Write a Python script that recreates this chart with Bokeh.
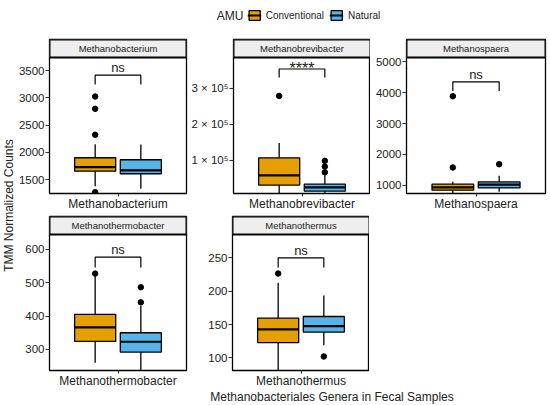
from bokeh.models import ColumnDataSource, Range1d, FixedTicker, Label, Legend, LegendItem
from bokeh.plotting import figure
from bokeh.layouts import row, column
from bokeh.core.properties import value
from bokeh.embed import file_html
from bokeh.resources import INLINE
import math

# ---- values ----
genera = ["Methanobacterium", "Methanobrevibacter", "Methanospaera",
          "Methanothermobacter", "Methanothermus"]
groups = ["Conventional", "Natural"]

conv_lower = [1380, 6000, 700, 260, 75]
conv_q1 = [1658, 30400, 838, 324, 122.7]
conv_median = [1730, 57400, 930, 366, 142.7]
conv_q3 = [1903, 106400, 1032, 405, 159.6]
conv_upper = [2150, 148000, 1110, 522, 212.6]
conv_outliers = [[3024, 2799, 2324, 1273], [279000], [3887, 1575], [527], [226.5]]

nat_lower = [1335, 8000, 790, 230, 118.7]
nat_q1 = [1610, 13600, 913, 292, 138.6]
nat_median = [1672, 24000, 1022, 323, 147.6]
nat_q3 = [1867, 33000, 1108, 350, 162]
nat_upper = [2146, 58000, 1303, 431, 193.6]
nat_outliers = [[], [98000, 82000, 66000], [1680], [486, 441], [102]]

signif = ["ns", "****", "ns", "ns", "ns"]
bracket_top = [3414, 354000, 4351, 576, 250]
bracket_leg = [3244, 330000, 4060, 545, 235.5]

y_lo = [1249, 7000, 731, 237, 81]
y_hi = [3738, 386000, 5143, 644, 285]
y_ticks = [[1500, 2000, 2500, 3000, 3500],
           [100000, 200000, 300000],
           [1000, 2000, 3000, 4000, 5000],
           [300, 400, 500, 600],
           [100, 150, 200, 250]]
y_tick_labels = [None, ["1 × 10⁵", "2 × 10⁵", "3 × 10⁵"], None, None, None]

# ---- styling ----
FONT = "Liberation Sans"
ORANGE = "#E69F00"
BLUE = "#56B4E9"
STRIP_H = 18
PLOT_H = 136
X_CONV, X_NAT, BOX_W = 0.8, 1.2, 0.36


def make_panel(i, fw, left, right, top, bottom):
    strip_top = y_hi[i] + (y_hi[i] - y_lo[i]) * STRIP_H / PLOT_H
    p = figure(frame_width=fw, frame_height=STRIP_H + PLOT_H,
               x_range=Range1d(0.4, 1.6), y_range=Range1d(y_lo[i], strip_top),
               output_backend="svg", toolbar_location=None,
               min_border_left=left, min_border_right=right,
               min_border_top=top, min_border_bottom=bottom)

    src = ColumnDataSource(data=dict(
        x=[X_CONV, X_NAT],
        left=[X_CONV - BOX_W / 2, X_NAT - BOX_W / 2],
        right=[X_CONV + BOX_W / 2, X_NAT + BOX_W / 2],
        lower=[conv_lower[i], nat_lower[i]],
        q1=[conv_q1[i], nat_q1[i]],
        median=[conv_median[i], nat_median[i]],
        q3=[conv_q3[i], nat_q3[i]],
        upper=[conv_upper[i], nat_upper[i]],
        color=[ORANGE, BLUE],
    ))
    p.segment(x0="x", y0="q3", x1="x", y1="upper", source=src, line_color="black", line_width=1.3)
    p.segment(x0="x", y0="lower", x1="x", y1="q1", source=src, line_color="black", line_width=1.3)
    p.quad(left="left", right="right", bottom="q1", top="q3", source=src,
           fill_color="color", line_color="black", line_width=1.3)
    p.segment(x0="left", y0="median", x1="right", y1="median", source=src,
              line_color="black", line_width=2.2)

    ox = [X_CONV] * len(conv_outliers[i]) + [X_NAT] * len(nat_outliers[i])
    oy = conv_outliers[i] + nat_outliers[i]
    p.scatter(ox, oy, size=5.5, color="black")

    # significance bracket
    p.line([X_CONV, X_CONV, X_NAT, X_NAT],
           [bracket_leg[i], bracket_top[i], bracket_top[i], bracket_leg[i]],
           line_color="black", line_width=1.2)
    stars = signif[i] != "ns"
    p.text(x=[1.0], y=[bracket_top[i]], text=[signif[i]], text_align="center",
           text_baseline="middle" if stars else "bottom", text_font=value(FONT),
           text_font_size="16px" if stars else "13px", text_color="#1a1a1a")

    # facet strip
    p.quad(left=[0.4], right=[1.6], bottom=[y_hi[i]], top=[strip_top],
           fill_color="#EEEEEE", line_color="black", line_width=2)
    p.text(x=[1.0], y=[(y_hi[i] + strip_top) / 2], text=[genera[i]],
           text_align="center", text_baseline="middle", text_font=value(FONT),
           text_font_size="9.5px", text_color="#1a1a1a")

    p.xaxis.ticker = FixedTicker(ticks=[1])
    p.xaxis.major_label_overrides = {1: genera[i]}
    p.yaxis.ticker = FixedTicker(ticks=y_ticks[i])
    if y_tick_labels[i]:
        p.yaxis.major_label_overrides = dict(zip(y_ticks[i], y_tick_labels[i]))

    for ax in (p.xaxis, p.yaxis):
        ax.axis_line_color = None
        ax.major_tick_line_color = "#333333"
        ax.major_tick_line_width = 1.2
        ax.major_tick_in = 0
        ax.minor_tick_line_color = None
        ax.major_label_text_font = FONT
        ax.major_label_text_color = "#222222"
    p.yaxis.major_tick_out = 4
    p.yaxis.major_label_standoff = 1
    p.xaxis.major_tick_out = 3
    p.xaxis.major_label_standoff = 0
    p.yaxis.major_label_text_font_size = "11.5px"
    p.xaxis.major_label_text_font_size = "12px"

    p.xgrid.visible = False
    p.ygrid.visible = False
    p.outline_line_color = "black"
    p.outline_line_width = 1.3
    p.outline_line_alpha = 1.0
    return p


p1 = make_panel(0, 137, 35, 2, 9, 21)
p2 = make_panel(1, 137, 44, 0, 9, 21)
p3 = make_panel(2, 139, 36, 5, 9, 21)
p4 = make_panel(3, 137, 35, 2, 2, 18)
p5 = make_panel(4, 137, 44, 0, 2, 18)

# legend strip on top
leg = figure(width=550, height=30, x_range=Range1d(0, 473), y_range=Range1d(0, 30),
             min_border_left=77, min_border_right=0, min_border_top=0, min_border_bottom=0,
             x_axis_type=None, y_axis_type=None, output_backend="svg", toolbar_location=None)
leg.outline_line_color = None
leg.xgrid.visible = False
leg.ygrid.visible = False
items = []
for name, col in zip(groups, [ORANGE, BLUE]):
    # one off-frame row so the legend has something to draw its key from
    rb = leg.quad(left=[-20], right=[-10], top=[1], bottom=[0], fill_color=col,
                  line_color="black", line_width=1.3)
    rm = leg.segment(x0=[-20], y0=[0.5], x1=[-10], y1=[0.5], line_color="black", line_width=2)
    items.append(LegendItem(label=name, renderers=[rb, rm]))
legend = Legend(items=items, orientation="horizontal", location="center",
                glyph_width=14, glyph_height=12, label_height=14,
                label_text_font=FONT, label_text_font_size="10px", label_text_color="#222222",
                label_standoff=5, spacing=5, padding=0, margin=0,
                border_line_color=None, background_fill_alpha=0)
leg.add_layout(legend, "center")
leg.add_layout(Label(x=166, y=15, text="AMU", text_align="right", text_baseline="middle",
                     text_font=FONT, text_font_size="12px", text_color="#222222"))

# shared y axis title
ytitle = figure(width=14, height=358, x_range=Range1d(0, 14), y_range=Range1d(0, 358),
                min_border=0, x_axis_type=None, y_axis_type=None,
                output_backend="svg", toolbar_location=None)
ytitle.outline_line_color = None
ytitle.xgrid.visible = False
ytitle.ygrid.visible = False
ytitle.add_layout(Label(x=8, y=183, text="TMM Normalized Counts", angle=math.pi / 2,
                        text_align="center", text_baseline="middle",
                        text_font=FONT, text_font_size="12px", text_color="#222222"))

# shared x axis title
xtitle = figure(width=550, height=16, x_range=Range1d(0, 550), y_range=Range1d(0, 16),
                min_border=0, x_axis_type=None, y_axis_type=None,
                output_backend="svg", toolbar_location=None)
xtitle.outline_line_color = None
xtitle.xgrid.visible = False
xtitle.ygrid.visible = False
xtitle.add_layout(Label(x=296, y=10, text="Methanobacteriales Genera in Fecal Samples",
                        text_align="center", text_baseline="middle",
                        text_font=FONT, text_font_size="12px", text_color="#222222"))

layout = column(leg, row(ytitle, column(row(p1, p2, p3), row(p4, p5))), xtitle)

open("out.html", "w").write(file_html(layout, INLINE))
